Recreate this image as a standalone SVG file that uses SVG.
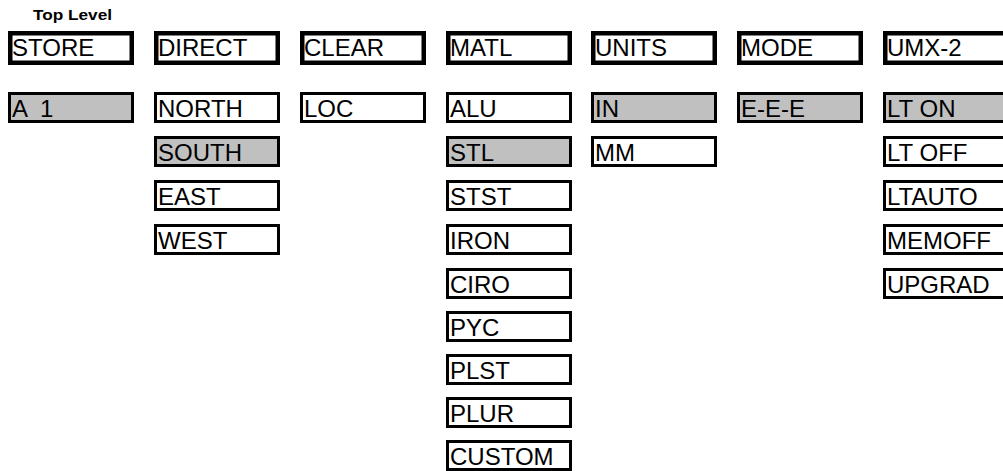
<svg xmlns="http://www.w3.org/2000/svg" width="1003" height="471" viewBox="0 0 1003 471">
<style>
.top{fill:#fff;stroke:#000;stroke-width:4.5}
.box{fill:#fff;stroke:#000;stroke-width:3}
.sel{fill:#c0c0c0;stroke:#000;stroke-width:3}
.lt{font-family:"Liberation Sans",Arial,sans-serif;font-size:24px;fill:#000}
.hd{font-family:"Liberation Sans",Arial,sans-serif;font-size:14px;font-weight:bold;fill:#000}
</style>
<text class="hd" x="33" y="20" textLength="79" lengthAdjust="spacingAndGlyphs">Top Level</text>
<g id="top">
<g id="n-store"><rect class="top" x="10.25" y="33.25" width="121.5" height="29.5"/><text class="lt" x="12" y="56">STORE</text></g>
<g id="n-direct"><rect class="top" x="156.25" y="33.25" width="121.5" height="29.5"/><text class="lt" x="158" y="56">DIRECT</text></g>
<g id="n-clear"><rect class="top" x="302.25" y="33.25" width="121.5" height="29.5"/><text class="lt" x="304" y="56">CLEAR</text></g>
<g id="n-matl"><rect class="top" x="448.25" y="33.25" width="121.5" height="29.5"/><text class="lt" x="450" y="56">MATL</text></g>
<g id="n-units"><rect class="top" x="593.25" y="33.25" width="121.5" height="29.5"/><text class="lt" x="595" y="56">UNITS</text></g>
<g id="n-mode"><rect class="top" x="739.25" y="33.25" width="121.5" height="29.5"/><text class="lt" x="741" y="56">MODE</text></g>
<g id="n-umx"><rect class="top" x="885.25" y="33.25" width="121.5" height="29.5"/><text class="lt" x="887" y="56">UMX-2</text></g>
</g>
<g id="connectors"/>
<g id="n-a1"><rect class="sel" x="9.5" y="93.5" width="123" height="28"/><text class="lt" x="12" y="117" xml:space="preserve">A  1</text></g>
<g id="n-north"><rect class="box" x="155.5" y="93.5" width="123" height="28"/><text class="lt" x="158" y="117">NORTH</text></g>
<g id="n-south"><rect class="sel" x="155.5" y="137.5" width="123" height="28"/><text class="lt" x="158" y="161">SOUTH</text></g>
<g id="n-east"><rect class="box" x="155.5" y="181.5" width="123" height="28"/><text class="lt" x="158" y="205">EAST</text></g>
<g id="n-west"><rect class="box" x="155.5" y="225.5" width="123" height="28"/><text class="lt" x="158" y="249">WEST</text></g>
<g id="n-loc"><rect class="box" x="301.5" y="93.5" width="123" height="28"/><text class="lt" x="304" y="117">LOC</text></g>
<g id="n-alu"><rect class="box" x="447.5" y="93.5" width="123" height="28"/><text class="lt" x="450" y="117">ALU</text></g>
<g id="n-stl"><rect class="sel" x="447.5" y="137.5" width="123" height="28"/><text class="lt" x="450" y="161">STL</text></g>
<g id="n-stst"><rect class="box" x="447.5" y="181.5" width="123" height="28"/><text class="lt" x="450" y="205">STST</text></g>
<g id="n-iron"><rect class="box" x="447.5" y="225.5" width="123" height="28"/><text class="lt" x="450" y="249">IRON</text></g>
<g id="n-ciro"><rect class="box" x="447.5" y="269.5" width="123" height="28"/><text class="lt" x="450" y="293">CIRO</text></g>
<g id="n-pyc"><rect class="box" x="447.5" y="312.5" width="123" height="28"/><text class="lt" x="450" y="336">PYC</text></g>
<g id="n-plst"><rect class="box" x="447.5" y="355.5" width="123" height="28"/><text class="lt" x="450" y="379">PLST</text></g>
<g id="n-plur"><rect class="box" x="447.5" y="398.5" width="123" height="28"/><text class="lt" x="450" y="422">PLUR</text></g>
<g id="n-custom"><rect class="box" x="447.5" y="441.5" width="123" height="28"/><text class="lt" x="450" y="465">CUSTOM</text></g>
<g id="n-in"><rect class="sel" x="592.5" y="93.5" width="123" height="28"/><text class="lt" x="595" y="117">IN</text></g>
<g id="n-mm"><rect class="box" x="592.5" y="137.5" width="123" height="28"/><text class="lt" x="595" y="161">MM</text></g>
<g id="n-eee"><rect class="sel" x="738.5" y="93.5" width="123" height="28"/><text class="lt" x="741" y="117">E-E-E</text></g>
<g id="n-lton"><rect class="sel" x="884.5" y="93.5" width="123" height="28"/><text class="lt" x="887" y="117">LT ON</text></g>
<g id="n-ltoff"><rect class="box" x="884.5" y="137.5" width="123" height="28"/><text class="lt" x="887" y="161">LT OFF</text></g>
<g id="n-ltauto"><rect class="box" x="884.5" y="181.5" width="123" height="28"/><text class="lt" x="887" y="205">LTAUTO</text></g>
<g id="n-memoff"><rect class="box" x="884.5" y="225.5" width="123" height="28"/><text class="lt" x="887" y="249">MEMOFF</text></g>
<g id="n-upgrad"><rect class="box" x="884.5" y="269.5" width="123" height="28"/><text class="lt" x="887" y="293">UPGRAD</text></g>
</svg>
